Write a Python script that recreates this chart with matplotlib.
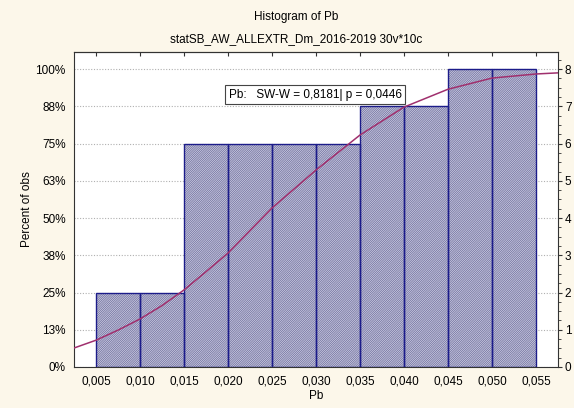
import matplotlib.pyplot as plt
import matplotlib.ticker as mticker

plt.rcParams['font.family'] = ['Liberation Sans', 'DejaVu Sans']
plt.rcParams['hatch.linewidth'] = 0.6

bin_left = [0.005, 0.010, 0.015, 0.020, 0.025, 0.030, 0.035, 0.040, 0.045, 0.050]
counts = [2, 2, 6, 6, 6, 6, 7, 7, 8, 8]
bin_width = 0.005

# fitted curve
curve_x = [0.0025, 0.005, 0.0075, 0.010, 0.0125, 0.015, 0.0175, 0.020, 0.025,
           0.030, 0.035, 0.040, 0.045, 0.050, 0.055, 0.0575]
curve_y = [0.51, 0.72, 0.99, 1.29, 1.65, 2.07, 2.56, 3.06, 4.27,
           5.29, 6.23, 6.98, 7.46, 7.76, 7.87, 7.9]

xticks = [0.005, 0.010, 0.015, 0.020, 0.025, 0.030, 0.035, 0.040, 0.045, 0.050, 0.055]
pct_labels = ['0%', '13%', '25%', '38%', '50%', '63%', '75%', '88%', '100%']

bg = '#fcf7ea'
navy = '#1c1c8a'
fs = 8.5

fig = plt.figure(figsize=(5.74, 4.08), dpi=100, facecolor=bg)
ax = fig.add_axes([0.129, 0.1005, 0.843, 0.772])
ax.set_facecolor('white')

for k in range(0, 9):
    ax.axhline(k, color='#b0b0b0', lw=0.8, ls=(0, (1, 1.5)), zorder=0)

# hatched fill, then a dark outline on top
ax.bar(bin_left, counts, width=bin_width, align='edge', color='white',
       edgecolor='#6a6a9e', hatch='/' * 18, linewidth=0, zorder=2)
ax.bar(bin_left, counts, width=bin_width, align='edge', fill=False,
       edgecolor=navy, linewidth=1.0, zorder=2.5)
ax.plot(curve_x, curve_y, color='#a0306e', lw=1.1, zorder=3)

ax.set_xlim(0.0025, 0.0575)
ax.set_ylim(0, 8.46)
ax.set_xticks(xticks)
ax.set_xticklabels([f'{v:.3f}'.replace('.', ',') for v in xticks])
ax.set_yticks(range(9))
ax.set_yticklabels(pct_labels)
ax.tick_params(axis='both', length=0, labelsize=fs, pad=6)
ax.set_xlabel('Pb', fontsize=fs, labelpad=2)
ax.set_ylabel('Percent of obs', fontsize=fs, labelpad=2)
for s in ['left', 'bottom', 'top']:
    ax.spines[s].set_color('#333333')
ax.spines['right'].set_visible(False)

# top spine ticks
top = ax.secondary_xaxis('top')
top.set_xticks(xticks)
top.tick_params(direction='in', length=3, labeltop=False, color='#333333')
top.spines['top'].set_color('#333333')

ax2 = ax.twinx()
ax2.set_ylim(ax.get_ylim())
ax2.set_yticks(range(9))
ax2.yaxis.set_minor_locator(mticker.MultipleLocator(0.25))
ax2.tick_params(axis='y', which='major', length=3, pad=2, labelsize=fs, color='#333333')
ax2.tick_params(axis='y', which='minor', length=2, color='#333333')
ax2.spines['right'].set_color('#333333')
for s in ['left', 'bottom', 'top']:
    ax2.spines[s].set_visible(False)

ax.text(0.0299, 7.31, 'Pb:   SW-W = 0,8181| p = 0,0446', fontsize=fs,
        ha='center', va='center', zorder=5,
        bbox=dict(boxstyle='square,pad=0.3', fc='white', ec='#444444', lw=0.8))

fig.text(0.516, 0.958, 'Histogram of Pb', ha='center', va='center', fontsize=fs)
fig.text(0.516, 0.905, 'statSB_AW_ALLEXTR_Dm_2016-2019 30v*10c', ha='center',
         va='center', fontsize=fs)

fig.savefig('out.png', dpi=100, facecolor=bg)
